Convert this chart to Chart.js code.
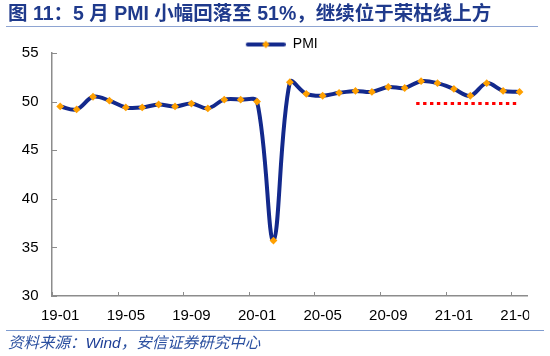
<!DOCTYPE html>
<html>
<head>
<meta charset="utf-8">
<script src="https://cdn.jsdelivr.net/npm/chart.js@4"></script>
<style>
  html, body { margin: 0; padding: 0; background: #fff; }
  #wrap { position: relative; width: 550px; height: 356px; overflow: hidden; }
  #c { position: absolute; left: 0; top: 0; }
  #title { position: absolute; left: 8px; top: 2px; font-family: "Liberation Sans", "Noto Sans CJK SC", sans-serif; font-weight: bold; font-size: 19.5px; color: #1F3A8C; white-space: nowrap; line-height: 22px; }
  #tline { position: absolute; left: 6px; top: 26px; width: 532px; height: 0; border-top: 1.5px solid #8EA4D2; }
  #bline { position: absolute; left: 6px; top: 329.5px; width: 538px; height: 0; border-top: 1.5px solid #7F9CD0; }
  #src { position: absolute; left: 8px; top: 334px; font-family: "Liberation Sans", "Noto Sans CJK SC", sans-serif; font-style: italic; font-size: 15.5px; color: #2B50A0; white-space: nowrap; line-height: 18px; }
  #src b { font-weight: normal; color: #1E3E96; }
</style>
</head>
<body>
<div id="wrap">
  <canvas id="c" width="550" height="356"></canvas>
  <div id="title">图 11：5 月 PMI 小幅回落至 51%，继续位于荣枯线上方</div>
  <div id="tline"></div>
  <div id="bline"></div>
  <div id="src">资料来源：<b>Wind</b>，安信证券研究中心</div>
</div>
<script>
const categories = [
  '19-01','19-02','19-03','19-04','19-05','19-06','19-07','19-08','19-09','19-10','19-11','19-12',
  '20-01','20-02','20-03','20-04','20-05','20-06','20-07','20-08','20-09','20-10','20-11','20-12',
  '21-01','21-02','21-03','21-04','21-05'
];
const pmiValues = [
  49.5, 49.2, 50.5, 50.1, 49.4, 49.4, 49.7, 49.5, 49.8, 49.3, 50.2, 50.2,
  50.0, 35.7, 52.0, 50.8, 50.6, 50.9, 51.1, 51.0, 51.5, 51.4, 52.1, 51.9,
  51.3, 50.6, 51.9, 51.1, 51.0
];
// 荣枯线 marker segment (red dotted), positions in category-index units
const refLineX = [21.7, 28];
const refLineY = [49.8, 49.8];
const yTicks = [30, 35, 40, 45, 50, 55];
const labelEvery = 4;

const NAVY = '#13298C';
const ORANGE = '#FFA000';
const AXIS = '#8C8C8C';

// legend symbol: line with a diamond marker
const sym = document.createElement('canvas');
sym.width = 70; sym.height = 10;
(function(){
  const g = sym.getContext('2d');
  g.strokeStyle = NAVY; g.lineWidth = 4; g.lineCap = 'round';
  g.beginPath(); g.moveTo(32, 5); g.lineTo(68, 5); g.stroke();
  g.fillStyle = ORANGE;
  g.beginPath(); g.moveTo(50, 1.2); g.lineTo(53.8, 5); g.lineTo(50, 8.8); g.lineTo(46.2, 5); g.closePath(); g.fill();
})();

const LEGEND_H = 21.5;
const fixLegend = {
  id: 'fixLegend',
  beforeLayout(chart) {
    const lg = chart.legend;
    if (lg && !lg._fixed) {
      const orig = lg.fit.bind(lg);
      lg.fit = function () { orig(); this.height = LEGEND_H; };
      lg._fixed = true;
    }
  }
};

const innerTicks = {
  id: 'innerTicks',
  afterDatasetsDraw(chart) {
    const ctx = chart.ctx, x = chart.scales.x, y = chart.scales.y;
    const area = chart.chartArea;
    ctx.save();
    ctx.strokeStyle = AXIS; ctx.lineWidth = 1;
    ctx.beginPath();
    yTicks.forEach(v => {
      const py = Math.round(y.getPixelForValue(v)) + 0.5;
      ctx.moveTo(area.left, py); ctx.lineTo(area.left + 5, py);
    });
    const half = (x.getPixelForValue(1) - x.getPixelForValue(0)) / 2;
    for (let i = 0; i < categories.length; i += labelEvery) {
      const px = Math.round(x.getPixelForValue(i) - half) + 0.5;
      ctx.moveTo(px, area.bottom); ctx.lineTo(px, area.bottom - 4);
    }
    ctx.stroke();
    // the last category label is clipped at the plot's right edge, as in the source
    ctx.fillStyle = '#fff';
    ctx.fillRect(area.right + 1.5, area.bottom + 2, chart.width - area.right, 26);
    ctx.restore();
  }
};

new Chart(document.getElementById('c'), {
  type: 'line',
  data: {
    labels: categories,
    datasets: [
      {
        label: 'PMI',
        data: pmiValues,
        borderColor: NAVY,
        borderWidth: 4,
        tension: 0.35,
        pointStyle: 'rectRot',
        pointRadius: 3.9,
        pointBackgroundColor: ORANGE,
        pointBorderColor: ORANGE,
        pointBorderWidth: 0,
        order: 1
      },
      {
        label: '荣枯线',
        data: refLineX.map((v, i) => ({ x: v, y: refLineY[i] })),
        xAxisID: 'xr',
        borderColor: '#FF0000',
        borderWidth: 3,
        borderDash: [3.4, 3.5],
        pointRadius: 0,
        tension: 0,
        order: 2
      }
    ]
  },
  options: {
    responsive: false,
    animation: false,
    devicePixelRatio: 1,
    layout: { padding: { top: 31.5, left: 0, right: 16.5, bottom: 30 } },
    plugins: {
      legend: {
        position: 'top',
        labels: {
          filter: item => item.text === 'PMI',
          usePointStyle: true,
          pointStyle: sym,
          pointStyleWidth: 70,
          boxWidth: 70,
          boxHeight: 10,
          padding: 6,
          color: '#000',
          font: { family: 'Liberation Sans', size: 14 }
        }
      },
      tooltip: { enabled: false }
    },
    scales: {
      x: {
        offset: true,
        grid: { display: true, drawOnChartArea: false, drawTicks: false, offset: true, color: 'transparent' },
        border: { display: true, color: AXIS, width: 1.5 },
        ticks: {
          autoSkip: false,
          maxRotation: 0,
          padding: 11,
          color: '#000',
          font: { family: 'Liberation Sans', size: 15 },
          callback: (v, i) => (i % labelEvery === 0 ? categories[i] : '')
        },
        afterFit: s => { s.height = 30; }
      },
      xr: {
        type: 'linear',
        display: false,
        min: -0.5,
        max: categories.length - 0.5
      },
      y: {
        min: 30, max: 55,
        afterBuildTicks: s => { s.ticks = yTicks.map(v => ({ value: v })); },
        grid: { display: true, drawOnChartArea: false, drawTicks: false, color: 'transparent' },
        border: { display: true, color: AXIS, width: 1.5 },
        ticks: {
          padding: 13.5,
          color: '#000',
          font: { family: 'Liberation Sans', size: 15 }
        },
        afterFit: s => { s.width = 52; }
      }
    }
  },
  plugins: [fixLegend, innerTicks]
});
</script>
</body>
</html>
